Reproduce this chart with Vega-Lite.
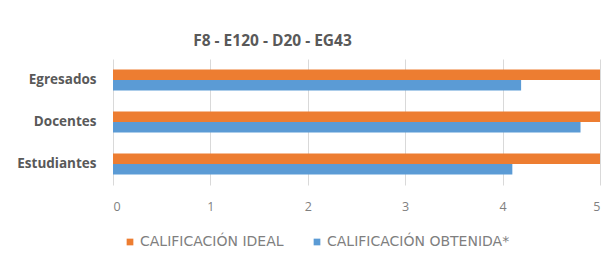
{
  "$schema": "https://vega.github.io/schema/vega-lite/v6.json",
  "autosize": {"type": "none"},
  "width": 487,
  "height": 126,
  "padding": {"left": 113, "top": 59, "right": 1, "bottom": 70},
  "background": "white",
  "title": {
    "text": "F8 - E120 - D20 - EG43",
    "font": "Open Sans",
    "fontSize": 15.5,
    "fontWeight": "bold",
    "color": "#595959",
    "anchor": "middle",
    "offset": 10,
    "dx": -84
  },
  "data": {
    "values": [
      {"grupo": "Egresados", "serie": "CALIFICACIÓN IDEAL", "valor": 5},
      {"grupo": "Egresados", "serie": "CALIFICACIÓN OBTENIDA*", "valor": 4.19},
      {"grupo": "Docentes", "serie": "CALIFICACIÓN IDEAL", "valor": 5},
      {"grupo": "Docentes", "serie": "CALIFICACIÓN OBTENIDA*", "valor": 4.8},
      {"grupo": "Estudiantes", "serie": "CALIFICACIÓN IDEAL", "valor": 5},
      {"grupo": "Estudiantes", "serie": "CALIFICACIÓN OBTENIDA*", "valor": 4.1}
    ]
  },
  "mark": {"type": "bar"},
  "encoding": {
    "y": {
      "field": "grupo",
      "type": "nominal",
      "sort": ["Egresados", "Docentes", "Estudiantes"],
      "scale": {"paddingInner": 0.5, "paddingOuter": 0.25},
      "axis": {
        "title": null,
        "domain": false,
        "ticks": false,
        "labelFont": "Open Sans",
        "labelFontSize": 13.5,
        "labelFontWeight": "bold",
        "labelColor": "#595959",
        "labelPadding": 17
      }
    },
    "yOffset": {
      "field": "serie",
      "type": "nominal",
      "sort": ["CALIFICACIÓN IDEAL", "CALIFICACIÓN OBTENIDA*"],
      "scale": {"paddingInner": 0, "paddingOuter": 0}
    },
    "x": {
      "field": "valor",
      "type": "quantitative",
      "scale": {"domain": [0, 5], "nice": false},
      "axis": {
        "title": null,
        "values": [0, 1, 2, 3, 4, 5],
        "format": "d",
        "domain": false,
        "ticks": false,
        "grid": true,
        "gridColor": "#D9D9D9",
        "labelFont": "Open Sans",
        "labelFontSize": 12.5,
        "labelColor": "#7F7F7F",
        "labelPadding": 15
      }
    },
    "color": {
      "field": "serie",
      "type": "nominal",
      "sort": ["CALIFICACIÓN IDEAL", "CALIFICACIÓN OBTENIDA*"],
      "scale": {"domain": ["CALIFICACIÓN IDEAL", "CALIFICACIÓN OBTENIDA*"], "range": ["#ED7D31", "#5B9BD5"]},
      "legend": {
        "title": null,
        "orient": "none",
        "direction": "horizontal",
        "legendX": 10,
        "legendY": 176,
        "symbolType": "square",
        "symbolSize": 45,
        "symbolStrokeWidth": 0,
        "labelFont": "DejaVu Sans",
        "labelFontSize": 14,
        "labelColor": "#7F7F7F",
        "labelOffset": 3,
        "labelLimit": 300,
        "columnPadding": 26
      }
    }
  },
  "config": {"view": {"stroke": null}}
}
